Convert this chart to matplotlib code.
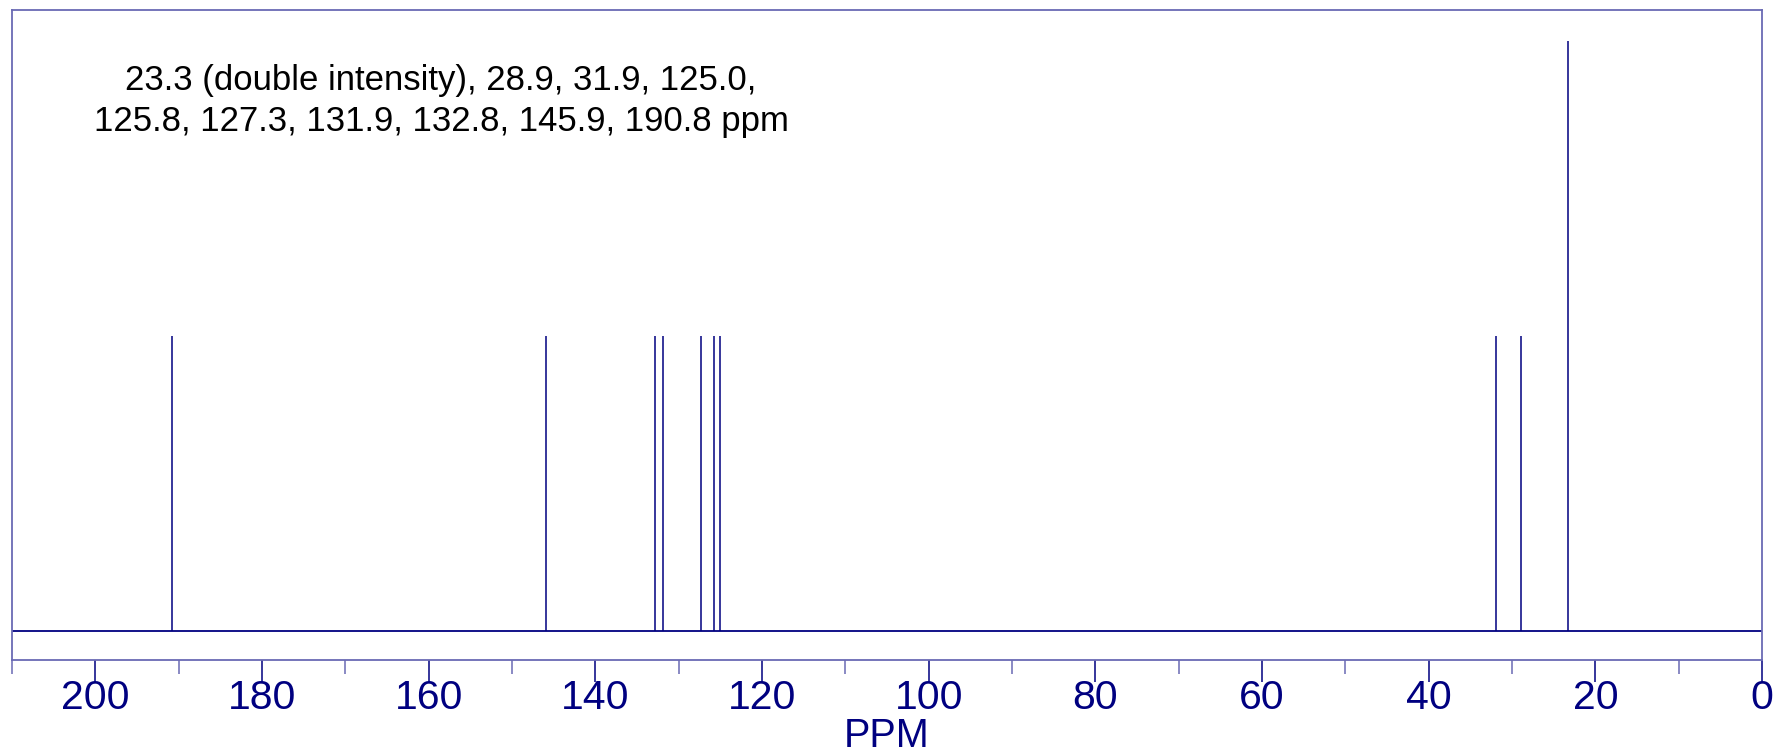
import matplotlib
matplotlib.use("Agg")
import matplotlib.pyplot as plt
from matplotlib.ticker import MultipleLocator

shifts = [23.3, 28.9, 31.9, 125.0, 125.8, 127.3, 131.9, 132.8, 145.9, 190.8]
intensities = [2, 1, 1, 1, 1, 1, 1, 1, 1, 1]
major_ticks = [0, 20, 40, 60, 80, 100, 120, 140, 160, 180, 200]
annotation = "23.3 (double intensity), 28.9, 31.9, 125.0,\n125.8, 127.3, 131.9, 132.8, 145.9, 190.8 ppm"
x_label = "PPM"

plt.rcParams['font.family'] = ['Liberation Sans', 'DejaVu Sans']

W, H = 1778, 753
fig = plt.figure(figsize=(W / 100, H / 100), dpi=100)
ax = fig.add_axes([12 / W, (H - 660) / H, (1762 - 12) / W, (660 - 10) / H])

navy = '#000080'
frame = '#6a6ab4'

ax.vlines(shifts, 0, intensities, color=navy, lw=1.1)
ax.plot([210, 0], [0, 0], color=navy, lw=1.3)

ax.set_xlim(210, 0)
ax.set_ylim(-0.0983, 2.105)
ax.set_yticks([])
ax.set_xticks(major_ticks)
ax.xaxis.set_minor_locator(MultipleLocator(10))
ax.tick_params(axis='x', which='major', length=15.5, width=1.1, color=navy,
               labelsize=29.5, labelcolor=navy, pad=-2)
ax.tick_params(axis='x', which='minor', length=10, width=1.1, color=frame)
for s in ax.spines.values():
    s.set_color(frame)
    s.set_linewidth(1.3)

ax.set_xlabel(x_label, fontsize=28.5, color=navy)
ax.xaxis.set_label_coords(0.5, -0.088)

ax.text(441 / W, 1 - 64 / H, annotation, transform=fig.transFigure,
        ha='center', va='top', fontsize=25, color='black', linespacing=1.3)

fig.savefig("out.png", dpi=100)
